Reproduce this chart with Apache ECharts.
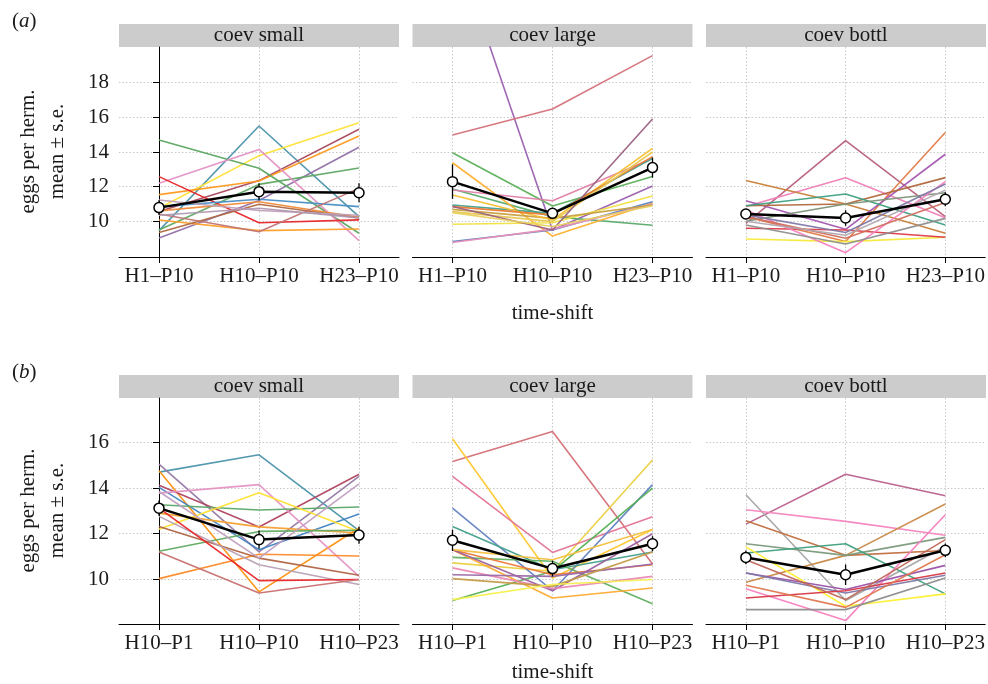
<!DOCTYPE html>
<html>
<head>
<meta charset="utf-8">
<script src="https://cdn.jsdelivr.net/npm/echarts@6/dist/echarts.min.js"></script>
<style>
  html, body { margin: 0; padding: 0; background: #fff; }
  #chart { width: 988px; height: 684px; }
</style>
</head>
<body>
<div id="chart"></div>
<script>
// categories / tick labels
const topCats = ['H1–P10', 'H10–P10', 'H23–P10'];
const botCats = ['H10–P1', 'H10–P10', 'H10–P23'];
const panelNames = ['coev small', 'coev large', 'coev bottl'];
const topTicks = [10, 12, 14, 16, 18];
const botTicks = [10, 12, 14, 16];

// (a) coev small
const aSmall = [
  [9.46, 15.5, 10.27], [10.75, 13.79, 15.69], [10.56, 12.35, 15.31], [11.54, 12.33, 14.92],
  [9.04, 11.2, 14.27], [14.69, 13.06, 9.31], [9.5, 12.13, 13.08], [12.19, 14.15, 8.88],
  [12.58, 9.92, 10.08], [10.85, 11.27, 10.85], [10.08, 9.46, 9.56], [10.6, 11.13, 10.23],
  [9.35, 10.98, 10.19], [10.42, 9.4, 11.9], [11.23, 10.62, 10.35], [10.35, 10.75, 10.2]
];
const aSmallMean = [10.79, 11.71, 11.65];
const aSmallSE = [0.42, 0.48, 0.55];

// (a) coev large
const aLarge = [
  [26.4, 9.5, 12.04], [14.98, 16.48, 19.56], [13.96, 10.88, 12.58], [11.87, 10.27, 9.77],
  [13.38, 9.15, 11.04], [11.81, 11.19, 13.63], [9.83, 9.92, 11.46], [8.83, 9.5, 11.13],
  [8.78, 9.55, 11.0], [10.69, 10.17, 10.94], [10.94, 10.46, 13.63], [11.52, 10.08, 14.21],
  [10.85, 10.37, 13.73], [10.56, 9.98, 14.0], [10.85, 9.5, 15.9], [10.5, 9.7, 10.9]
];
const aLargeMean = [12.29, 10.46, 13.1];
const aLargeSE = [1.0, 0.33, 0.58];

// (a) coev bottl
const aBottl = [
  [9.88, 14.65, 10.27], [10.85, 12.52, 10.2], [12.35, 11.0, 9.31], [10.27, 8.83, 15.13],
  [11.19, 9.54, 13.87], [10.9, 11.0, 12.52], [10.9, 11.58, 9.79], [10.0, 11.0, 11.65],
  [8.98, 8.83, 9.08], [9.6, 9.5, 9.08], [10.65, 8.19, 12.29], [9.79, 8.69, 10.17],
  [10.37, 9.35, 12.15], [10.27, 9.02, 11.08], [10.0, 9.2, 11.8]
];
const aBottlMean = [10.42, 10.19, 11.27];
const aBottlSE = [0.2, 0.45, 0.4];

// (b) coev small
const bSmall = [
  [14.7, 15.46, 12.13], [15.05, 11.2, 14.51], [14.76, 9.45, 12.25], [14.12, 12.29, 14.61],
  [14.03, 11.3, 12.86], [13.78, 14.15, 10.13], [13.27, 13.04, 13.17], [12.2, 13.8, 12.1],
  [12.9, 12.3, 12.03], [11.23, 12.1, 12.15], [10.03, 11.1, 11.02], [12.32, 10.93, 10.18],
  [12.76, 10.64, 9.77], [13.85, 10.93, 14.18], [13.12, 9.94, 9.99], [11.2, 9.4, 9.99]
];
const bSmallMean = [13.12, 11.74, 11.94];
const bSmallSE = [0.33, 0.4, 0.38];

// (b) coev large
const bLarge = [
  [15.17, 16.48, 10.67], [16.16, 10.06, 12.18], [10.72, 10.35, 15.23], [14.51, 11.18, 12.74],
  [13.12, 9.5, 14.15], [12.32, 10.42, 11.2], [9.07, 10.35, 14.0], [10.96, 10.79, 8.93],
  [11.3, 9.18, 9.62], [11.3, 10.2, 10.64], [11.3, 9.5, 12.0], [10.5, 9.59, 10.13],
  [10.2, 10.13, 10.67], [10.03, 9.69, 11.2], [9.11, 9.77, 9.99], [11.3, 10.86, 12.18]
];
const bLargeMean = [11.71, 10.47, 11.56];
const bLargeSE = [0.47, 0.35, 0.33];

// (b) coev bottl
const bBottl = [
  [12.42, 14.61, 13.66], [13.71, 9.07, 11.45], [13.05, 12.54, 11.93], [12.57, 11.05, 11.26],
  [9.87, 11.05, 13.3], [11.56, 11.05, 11.84], [11.15, 11.56, 9.36], [11.42, 8.82, 9.36],
  [9.59, 8.19, 12.83], [10.28, 9.55, 10.61], [10.28, 9.4, 10.18], [9.18, 9.5, 10.28],
  [9.74, 8.77, 11.08], [8.67, 8.67, 10.06], [10.86, 9.11, 11.74]
];
const bBottlMean = [10.96, 10.2, 11.27];
const bBottlSE = [0.3, 0.45, 0.3];

// line colours per panel
const colsASmall = ['#4b93ab', '#ffe033', '#a8495e', '#ff9a1f', '#9271a6', '#5aa860', '#5fa864', '#e492c4',
  '#e8262a', '#4a8ec4', '#ff9e2a', '#f08a3a', '#b0683e', '#c07474', '#c0a0b8', '#b098b0'];
const colsALarge = ['#9a5fb0', '#d4717a', '#5cb05a', '#5aaa6a', '#ffb030', '#e07fa6', '#f0e040', '#5b7fc2',
  '#e890b8', '#c8a040', '#45a08a', '#f5c030', '#e87a35', '#e8c850', '#9a6080', '#e8d060'];
const colsABottl = ['#b8607c', '#f080b8', '#c8803a', '#e27a48', '#a356b0', '#b0683c', '#3ea083', '#7c9478',
  '#f5ea3a', '#dc3a48', '#f77fbf', '#8e8e8e', '#7f7aa8', '#d07060', '#b0a8b0'];
const colsBSmall = ['#4b93ab', '#9478a4', '#ff9010', '#b04560', '#4585c2', '#e394c4', '#5aa868', '#ffe033',
  '#f5a030', '#60aa60', '#ff8a28', '#b06444', '#b8a0b4', '#c0a0c0', '#e8262a', '#c87070'];
const colsBLarge = ['#d47078', '#ffc830', '#ead040', '#e27595', '#6483c2', '#45a08c', '#55b055', '#60b060',
  '#ffaa30', '#eb7a38', '#9a62a0', '#ea88b4', '#9a6aa8', '#c49a48', '#f5f050', '#f5c040'];
const colsBBottl = ['#b8608c', '#a4a4a4', '#f585c0', '#c07040', '#c88a48', '#7c9a7c', '#40a080', '#fff030',
  '#f77fbf', '#9a52a8', '#7e78a8', '#d83848', '#e07850', '#8c8c8c', '#c06858'];

const panels = [
  { lines: aSmall, cols: colsASmall, mean: aSmallMean, se: aSmallSE, row: 0, col: 0 },
  { lines: aLarge, cols: colsALarge, mean: aLargeMean, se: aLargeSE, row: 0, col: 1 },
  { lines: aBottl, cols: colsABottl, mean: aBottlMean, se: aBottlSE, row: 0, col: 2 },
  { lines: bSmall, cols: colsBSmall, mean: bSmallMean, se: bSmallSE, row: 1, col: 0 },
  { lines: bLarge, cols: colsBLarge, mean: bLargeMean, se: bLargeSE, row: 1, col: 1 },
  { lines: bBottl, cols: colsBBottl, mean: bBottlMean, se: bBottlSE, row: 1, col: 2 }
];

const FONT = '"Liberation Serif", "DejaVu Serif", serif';
const TXT = '#1a1a1a';
const lefts = [119, 412.5, 706];
const W = 280;
const rows = [
  { top: 47, height: 210, min: 7.94, max: 20.06, ticks: topTicks, cats: topCats, strip: 24, tag: 'a' },
  { top: 398, height: 226, min: 8.04, max: 17.95, ticks: botTicks, cats: botCats, strip: 375, tag: 'b' }
];

const grid = [], xAxis = [], yAxis = [], series = [], graphic = [];
const gridLine = { show: true, lineStyle: { type: [1.5, 2], color: '#c8c8c8', width: 1 } };

panels.forEach((p, i) => {
  const r = rows[p.row];
  const first = p.col === 0;
  grid.push({ left: lefts[p.col], top: r.top, width: W, height: r.height });
  xAxis.push({
    type: 'value', gridIndex: i, min: -0.4, max: 2.4,
    axisLine: { show: true, lineStyle: { color: '#000', width: 1 } },
    axisTick: { show: true, customValues: [0, 1, 2], length: 6, lineStyle: { color: '#000' } },
    axisLabel: { customValues: [0, 1, 2], formatter: v => r.cats[v], fontFamily: FONT, fontSize: 21, color: TXT, margin: 9 },
    splitLine: gridLine
  });
  yAxis.push({
    type: 'value', gridIndex: i, min: r.min, max: r.max,
    axisLine: { show: first, lineStyle: { color: '#000', width: 1 } },
    axisTick: { show: first, customValues: r.ticks, length: 6, lineStyle: { color: '#000' } },
    axisLabel: { show: first, customValues: r.ticks, fontFamily: FONT, fontSize: 21, color: TXT, margin: 10 },
    splitLine: gridLine
  });

  p.lines.forEach((vals, k) => {
    series.push({
      type: 'line', xAxisIndex: i, yAxisIndex: i, symbol: 'none', silent: true, z: 2,
      data: vals.map((v, j) => [j, v]),
      lineStyle: { color: p.cols[k], width: 1.6, opacity: 0.95 }
    });
  });
  series.push({
    type: 'custom', xAxisIndex: i, yAxisIndex: i, z: 5, silent: true,
    data: p.mean.map((m, j) => [j, m - p.se[j], m + p.se[j]]),
    encode: { x: 0, y: [1, 2] },
    renderItem: (params, api) => {
      const a = api.coord([api.value(0), api.value(1)]);
      const b = api.coord([api.value(0), api.value(2)]);
      return { type: 'line', shape: { x1: a[0], y1: a[1], x2: b[0], y2: b[1] }, style: { stroke: '#000', lineWidth: 1.3 } };
    }
  });
  series.push({
    type: 'line', xAxisIndex: i, yAxisIndex: i, z: 6, silent: true,
    data: p.mean.map((m, j) => [j, m]),
    symbol: 'circle', symbolSize: 10,
    lineStyle: { color: '#000', width: 2.5 },
    itemStyle: { color: '#fff', borderColor: '#000', borderWidth: 1.5 }
  });

  // strip header
  graphic.push({ type: 'rect', shape: { x: lefts[p.col], y: r.strip, width: W, height: r.top - r.strip }, style: { fill: '#cccccc' }, silent: true });
  graphic.push({ type: 'text', x: lefts[p.col] + W / 2, y: r.strip + (r.top - r.strip) / 2,
    style: { text: panelNames[p.col], font: '21px ' + FONT, fill: TXT, align: 'center', verticalAlign: 'middle' } });
});

rows.forEach(r => {
  graphic.push({ type: 'text', x: 12, y: r.strip - 3,
    style: { text: '{n|(}{i|' + r.tag + '}{n|)}', verticalAlign: 'middle',
      rich: { n: { font: '21px ' + FONT, fill: TXT }, i: { font: 'italic 21px ' + FONT, fill: TXT } } } });
  graphic.push({ type: 'text', x: 43, y: r.top + r.height / 2 - 0.5, rotation: Math.PI / 2,
    style: { text: 'eggs per herm.\nmean ± s.e.', font: '21px ' + FONT, fill: TXT, align: 'center', verticalAlign: 'middle', lineHeight: 29 } });
});
graphic.push({ type: 'text', x: 552.5, y: 313, style: { text: 'time-shift', font: '21px ' + FONT, fill: TXT, align: 'center', verticalAlign: 'middle' } });
graphic.push({ type: 'text', x: 552.5, y: 672, style: { text: 'time-shift', font: '21px ' + FONT, fill: TXT, align: 'center', verticalAlign: 'middle' } });

const chart = echarts.init(document.getElementById('chart'));
chart.setOption({ animation: false, backgroundColor: '#fff', grid, xAxis, yAxis, series, graphic });
</script>
</body>
</html>
